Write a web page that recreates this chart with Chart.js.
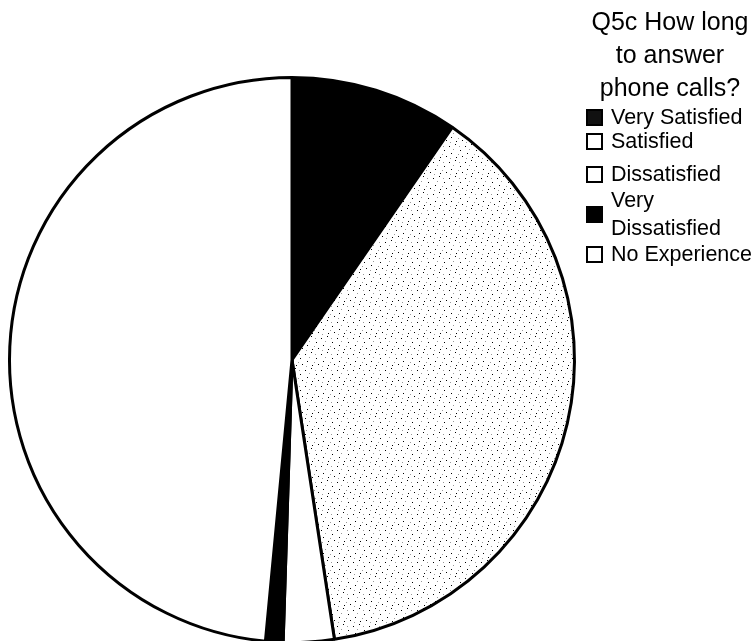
<!DOCTYPE html>
<html>
<head>
<meta charset="utf-8">
<script src="https://cdn.jsdelivr.net/npm/chart.js@4"></script>
<style>
  html, body { margin: 0; padding: 0; background: #fff; }
  #wrap { position: relative; width: 754px; height: 641px; overflow: hidden; }
  #c { position: absolute; left: 0; top: 0; }
  #legend { position: absolute; left: 583px; top: 0; width: 171px; font-family: "Liberation Sans", Arial, sans-serif; color: #000; }
  #legend .title { font-size: 25px; line-height: 33px; text-align: center; margin-top: 5px; width: 168px; margin-left: 3px; }
  #legend .item { display: flex; align-items: center; font-size: 21.5px; line-height: 28px; position: absolute; left: 3px; }
  #legend .box { width: 13px; height: 13px; border: 2px solid #000; margin-right: 8px; flex: none; box-sizing: content-box; }
  #legend .txt { width: 145px; }
</style>
</head>
<body>
<div id="wrap">
  <canvas id="c" width="754" height="660"></canvas>
  <div id="legend"></div>
</div>
<script>
const titleLines = ["Q5c How long", "to answer", "phone calls?"];
const categories = ["Very Satisfied", "Satisfied", "Dissatisfied", "Very Dissatisfied", "No Experience"];
const values = [9.6, 38.0, 2.9, 1.0, 48.5];

// stipple pattern for "Satisfied"
function stipple() {
  const p = document.createElement('canvas');
  p.width = 16; p.height = 16;
  const g = p.getContext('2d');
  g.fillStyle = '#fff'; g.fillRect(0, 0, 16, 16);
  g.fillStyle = '#000';
  const dots = [[1,2],[7,0],[12,6],[3,9],[14,12],[8,13]];
  dots.forEach(d => g.fillRect(d[0], d[1], 1, 1));
  g.fillStyle = '#999';
  [[5,5],[11,2],[2,14],[10,10]].forEach(d => g.fillRect(d[0], d[1], 1, 1));
  return g.createPattern(p, 'repeat');
}
const sat = stipple();
const fills = ['#000', sat, '#fff', '#000', '#fff'];
const legendFills = ['#111', '#fff', '#fff', '#000', '#fff'];

new Chart(document.getElementById('c'), {
  type: 'pie',
  data: {
    labels: categories,
    datasets: [{
      data: values,
      backgroundColor: fills,
      borderColor: '#000',
      borderWidth: 3,
      borderAlign: 'center'
    }]
  },
  options: {
    responsive: false,
    animation: false,
    layout: { padding: { left: 8, right: 178, top: 76, bottom: 16 } },
    plugins: { legend: { display: false }, tooltip: { enabled: false } }
  }
});

// legend
const lg = document.getElementById('legend');
const t = document.createElement('div');
t.className = 'title';
t.innerHTML = titleLines.join('<br>');
lg.appendChild(t);
const tops = [103, 127, 160, 186, 240];
categories.forEach((c, i) => {
  const it = document.createElement('div');
  it.className = 'item';
  it.style.top = tops[i] + 'px';
  const b = document.createElement('div');
  b.className = 'box';
  b.style.background = legendFills[i];
  const s = document.createElement('div');
  s.className = 'txt';
  s.textContent = c;
  it.appendChild(b); it.appendChild(s);
  lg.appendChild(it);
});
</script>
</body>
</html>
